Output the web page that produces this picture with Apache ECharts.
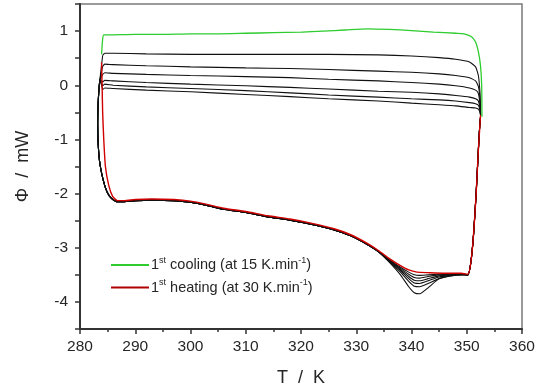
<!DOCTYPE html>
<html>
<head>
<meta charset="utf-8">
<script src="https://cdn.jsdelivr.net/npm/echarts@6/dist/echarts.min.js"></script>
<style>
  html, body { margin: 0; padding: 0; background: #fff; }
  #chart { width: 535px; height: 389px; }
</style>
</head>
<body>
<div id="chart"></div>
<script>
// 1st heating (red)
const heatT   = [283.9, 284.0, 284.1, 284.3, 284.6, 285.2, 285.9, 286.8, 288, 290, 293, 297, 300, 303, 306, 310, 314, 318, 322, 326, 329, 332, 334, 336, 338, 339.5, 341, 343, 346, 349, 350.2, 350.7, 351.2, 351.7, 352.1, 352.5];
const heatPhi = [0.42, 0.0, -0.5, -1.0, -1.5, -1.85, -2.05, -2.13, -2.13, -2.11, -2.1, -2.11, -2.14, -2.2, -2.27, -2.33, -2.41, -2.47, -2.55, -2.65, -2.76, -2.92, -3.05, -3.2, -3.33, -3.41, -3.45, -3.46, -3.47, -3.47, -3.49, -3.3, -2.8, -2.0, -1.2, -0.55];

// 1st cooling (green)
const coolT   = [352.75, 352.7, 352.5, 352.1, 351.6, 350.8, 349.5, 348, 344, 340, 336, 332, 328, 324, 320, 315, 310, 305, 300, 295, 290, 285, 284.3, 284.1, 283.9];
const coolPhi = [-0.58, 0.0, 0.35, 0.62, 0.8, 0.9, 0.95, 0.96, 0.98, 1.01, 1.03, 1.04, 1.02, 1.0, 0.98, 0.97, 0.96, 0.95, 0.95, 0.94, 0.94, 0.93, 0.93, 0.85, 0.57];

// later cycles (black): heating start, shared baseline, dips, rise, cooling
const cycStartT = 284.1;
const bLeftT   = [283.6, 283.3, 283.2, 283.3, 283.6, 284.2, 284.9, 285.7, 286.6];
const bLeftPhi = [0.1, -0.3, -0.7, -1.1, -1.45, -1.75, -1.97, -2.09, -2.15];
const bMidT    = [288, 290, 293, 297, 300, 303, 306, 310, 314, 318, 322, 326, 329, 332, 334];
const bMidPhi  = [-2.15, -2.13, -2.12, -2.13, -2.16, -2.22, -2.29, -2.35, -2.43, -2.49, -2.57, -2.67, -2.78, -2.94, -3.07];
const dipT     = [336, 338, 339.5, 340.5, 341.5, 343, 345, 347, 349, 350.2];
const dip1 = [-3.22, -3.36, -3.45, -3.50, -3.51, -3.50, -3.49, -3.48, -3.48, -3.50];
const dip2 = [-3.23, -3.38, -3.49, -3.55, -3.56, -3.53, -3.50, -3.49, -3.48, -3.50];
const dip3 = [-3.24, -3.40, -3.53, -3.60, -3.61, -3.57, -3.52, -3.50, -3.49, -3.50];
const dip4 = [-3.25, -3.42, -3.57, -3.65, -3.66, -3.61, -3.54, -3.51, -3.49, -3.50];
const dip5 = [-3.26, -3.45, -3.62, -3.71, -3.72, -3.66, -3.57, -3.52, -3.50, -3.50];
const dip6 = [-3.27, -3.50, -3.72, -3.83, -3.85, -3.74, -3.57, -3.52, -3.50, -3.50];
const riseT    = [350.7, 351.2, 351.7, 352.1, 352.5];
const risePhi  = [-3.3, -2.8, -2.0, -1.2, -0.55];
const bCoolT = [352.6, 352.4, 352.1, 351.6, 350.5, 348, 345, 340, 334, 325, 318, 310, 300, 292, 286, 284.5, 284.1];
const cool1 = [-0.55, -0.15, 0.18, 0.34, 0.43, 0.48, 0.51, 0.54, 0.56, 0.57, 0.57, 0.57, 0.57, 0.58, 0.59, 0.59, 0.55];
const cool2 = [-0.55, -0.25, -0.02, 0.08, 0.14, 0.18, 0.21, 0.24, 0.26, 0.29, 0.31, 0.32, 0.34, 0.36, 0.38, 0.39, 0.35];
const cool3 = [-0.55, -0.35, -0.15, -0.09, -0.05, -0.01, 0.02, 0.05, 0.08, 0.11, 0.14, 0.16, 0.18, 0.20, 0.22, 0.23, 0.20];
const cool4 = [-0.55, -0.42, -0.29, -0.25, -0.22, -0.19, -0.16, -0.13, -0.11, -0.07, -0.04, -0.01, 0.02, 0.05, 0.08, 0.09, 0.06];
const cool5 = [-0.55, -0.46, -0.37, -0.34, -0.32, -0.29, -0.27, -0.25, -0.22, -0.18, -0.14, -0.10, -0.06, -0.03, 0.00, 0.02, -0.01];
const cool6 = [-0.55, -0.50, -0.44, -0.42, -0.41, -0.38, -0.36, -0.33, -0.29, -0.25, -0.21, -0.17, -0.12, -0.09, -0.06, -0.05, -0.08];
const dips  = [dip1, dip2, dip3, dip4, dip5, dip6];
const cools = [cool1, cool2, cool3, cool4, cool5, cool6];

const zip = (xs, ys) => xs.map((x, i) => [x, ys[i]]);

function cycle(i) {
  const c = cools[i];
  return [[cycStartT, c[c.length - 1]]]
    .concat(zip(bLeftT, bLeftPhi), zip(bMidT, bMidPhi), zip(dipT, dips[i]), zip(riseT, risePhi), zip(bCoolT, c));
}

const FONT = "Arial, 'Liberation Sans', sans-serif";
const TXT = "#262626";

const blackSeries = cools.map((_, i) => ({
  name: "cycle" + (i + 2),
  type: "line",
  data: cycle(i),
  symbol: "none",
  smooth: 0.15,
  lineStyle: { color: "#111", width: 1.1 },
  z: 2,
}));

const legendText = {
  heat: "{n|1}{s|st}{n| heating (at 30 K.min}{s|-1}{n|)}",
  cool: "{n|1}{s|st}{n| cooling (at 15 K.min}{s|-1}{n|)}",
};

const chart = echarts.init(document.getElementById("chart"), null, { renderer: "canvas" });
chart.setOption({
  animation: false,
  backgroundColor: "#fff",
  grid: {
    left: 80, right: 13, top: 4, bottom: 60, show: true, borderColor: "#7a7a7a", borderWidth: 1.5,
    outerBoundsMode: "none",
  },
  xAxis: {
    type: "value", min: 280, max: 360, interval: 10,
    name: "T  /  K", nameLocation: "middle", nameGap: 40,
    nameTextStyle: { fontFamily: FONT, fontSize: 18, color: TXT },
    axisLine: { onZero: false, lineStyle: { color: "#333", width: 2 } },
    axisTick: { length: 5, lineStyle: { color: "#333", width: 1.5 } },
    minorTick: { show: true, splitNumber: 2, length: 3, lineStyle: { color: "#333", width: 1.5 } },
    axisLabel: { fontFamily: FONT, fontSize: 15.5, color: TXT, margin: 10 },
    splitLine: { show: false },
  },
  yAxis: {
    type: "value", min: -4.5, max: 1.5, interval: 0.5,
    name: "\u03A6  /  mW", nameLocation: "middle", nameGap: 48, nameRotate: 90,
    nameTextStyle: { fontFamily: FONT, fontSize: 18, color: TXT },
    axisLine: { onZero: false, lineStyle: { color: "#333", width: 2 } },
    axisTick: { length: 5, lineStyle: { color: "#333", width: 1.5 } },
    axisLabel: {
      fontFamily: FONT, fontSize: 15.5, color: TXT, margin: 12,
      formatter: (v) => (Number.isInteger(v) ? String(v) : ""),
    },
    splitLine: { show: false },
  },
  legend: {
    orient: "vertical", left: 106, top: 251, itemWidth: 38, itemHeight: 2, itemGap: 6,
    icon: "rect",
    data: ["cool", "heat"],
    formatter: (name) => legendText[name],
    textStyle: {
      padding: [0, 0, 0, -3],
      rich: {
        n: { fontFamily: FONT, fontSize: 14.5, color: TXT, lineHeight: 18 },
        s: { fontFamily: FONT, fontSize: 9, color: TXT, verticalAlign: "top", lineHeight: 10 },
      },
    },
  },
  series: blackSeries.concat([
    {
      name: "heat", type: "line", data: zip(heatT, heatPhi), symbol: "none", smooth: 0.2,
      lineStyle: { color: "#d10000", width: 1.4 }, itemStyle: { color: "#b00000" }, z: 3,
    },
    {
      name: "cool", type: "line", data: zip(coolT, coolPhi), symbol: "none", smooth: 0.2,
      lineStyle: { color: "#2ecc2e", width: 1.3 }, itemStyle: { color: "#2ecc2e" }, z: 4,
    },
  ]),
});
</script>
</body>
</html>
